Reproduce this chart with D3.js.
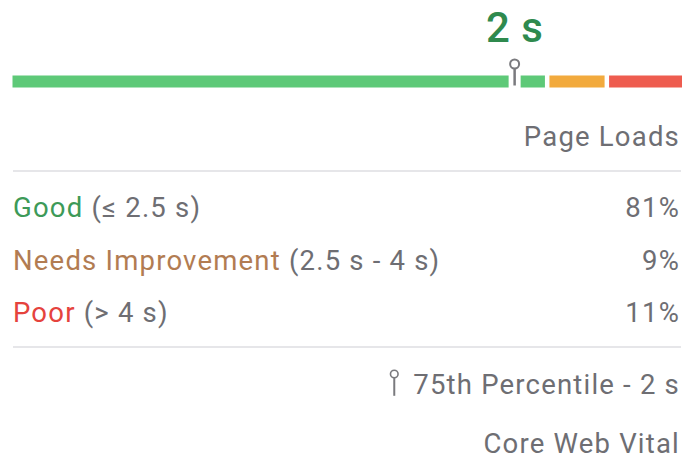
<!DOCTYPE html>
<html>
<head>
<meta charset="utf-8">
<script src="https://cdn.jsdelivr.net/npm/d3@7"></script>
<style>
  html, body { margin: 0; padding: 0; background: #fff; }
  svg { display: block; font-family: Roboto, "Noto Sans", sans-serif; }
</style>
</head>
<body>
<div id="vital"></div>
<script>
// data
const categories = ["Good", "Needs Improvement", "Poor"];
const ranges = ["(\u2264 2.5 s)", "(2.5 s - 4 s)", "(> 4 s)"];
const shares = [81, 9, 11];
const percentile = 75;
const percentileValue = "2 s";
const columnTitle = "Page Loads";
const footer = "Core Web Vital";

// styles
const barCols = ["#5ec978", "#f2aa3d", "#ee5c4f"];
const textCols = ["#3d9a58", "#b27c52", "#e5433d"];
const grey = "#6e6e73";
const rule = "#e6e6e9";
const fs = 27.5, ls = 1.2;

const width = 684, height = 456;
const left = 12.5, right = 682;

const total = d3.sum(shares);
const x = d3.scaleLinear().domain([0, total]).range([left, right]);

let acc = 0;
const segs = shares.map((s, i) => {
  const d = { i: i, start: acc, end: acc + s };
  acc += s;
  return d;
});

const svg = d3.select("#vital")
  .append("svg")
  .attr("width", width)
  .attr("height", height);

// bar
const gap = 4.5;
svg.selectAll("rect.seg")
  .data(segs)
  .enter()
  .append("rect")
  .attr("class", "seg")
  .attr("x", d => x(d.start))
  .attr("y", 75.5)
  .attr("width", d => x(d.end) - x(d.start) - (d.i < segs.length - 1 ? gap : 0))
  .attr("height", 12)
  .attr("fill", d => barCols[d.i]);

// pin on the bar
const px = x(percentile * total / 100);
svg.append("rect")
  .attr("x", px - 6)
  .attr("y", 74)
  .attr("width", 12)
  .attr("height", 15)
  .attr("fill", "#fff");

function pin(g, cx, cy, r, len, w) {
  g.append("line")
    .attr("x1", cx).attr("x2", cx)
    .attr("y1", cy + r).attr("y2", cy + r + len)
    .attr("stroke", "#7a7a7e")
    .attr("stroke-width", w);
  g.append("circle")
    .attr("cx", cx).attr("cy", cy).attr("r", r)
    .attr("fill", "#fff")
    .attr("stroke", "#7a7a7e")
    .attr("stroke-width", w * 0.8);
}
pin(svg, px, 64, 4.5, 17, 2.5);

svg.append("text")
  .attr("x", px)
  .attr("y", 42)
  .attr("text-anchor", "middle")
  .attr("font-size", 42)
  .attr("font-weight", 500)
  .attr("letter-spacing", 0.5)
  .attr("fill", "#2f8a4e")
  .text(percentileValue);

// table
svg.append("text")
  .attr("x", 680)
  .attr("y", 146)
  .attr("text-anchor", "end")
  .attr("font-size", fs)
  .attr("letter-spacing", ls)
  .attr("fill", grey)
  .text(columnTitle);

[171, 347].forEach(yy => {
  svg.append("line")
    .attr("x1", 13).attr("x2", 681)
    .attr("y1", yy).attr("y2", yy)
    .attr("stroke", rule)
    .attr("stroke-width", 2);
});

const rowY = d3.scalePoint().domain(categories).range([217, 322]);

const rows = svg.selectAll("g.row")
  .data(categories)
  .enter()
  .append("g")
  .attr("class", "row")
  .attr("transform", d => `translate(0,${rowY(d)})`);

const label = rows.append("text")
  .attr("x", 13)
  .attr("font-size", fs)
  .attr("letter-spacing", ls);
label.append("tspan")
  .attr("fill", (d, i) => textCols[i])
  .text(d => d);
label.append("tspan")
  .attr("fill", grey)
  .text((d, i) => " " + ranges[i]);

rows.append("text")
  .attr("x", 680)
  .attr("text-anchor", "end")
  .attr("font-size", fs)
  .attr("letter-spacing", ls)
  .attr("fill", grey)
  .text((d, i) => shares[i] + "%");

// legend
const legText = svg.append("text")
  .attr("x", 680)
  .attr("y", 394)
  .attr("text-anchor", "end")
  .attr("font-size", fs)
  .attr("letter-spacing", ls)
  .attr("fill", grey)
  .text(`${percentile}th Percentile - ${percentileValue}`);
const lw = legText.node().getComputedTextLength();
pin(svg, 680 - lw - 19, 374, 3.8, 18, 2);

svg.append("text")
  .attr("x", 680)
  .attr("y", 453)
  .attr("text-anchor", "end")
  .attr("font-size", fs)
  .attr("letter-spacing", ls)
  .attr("fill", grey)
  .text(footer);
</script>
</body>
</html>
